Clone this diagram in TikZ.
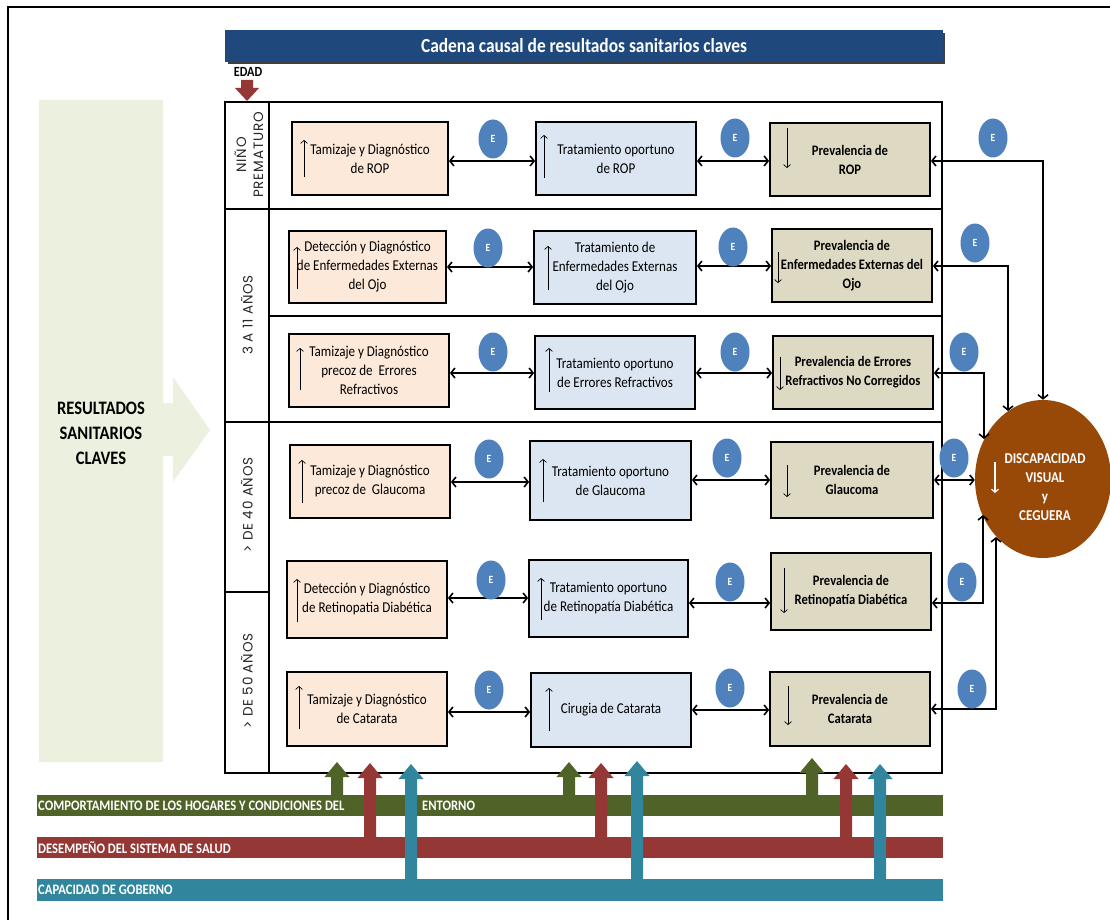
\documentclass[tikz,border=0pt]{standalone}
\usepackage{fontspec}
\setmainfont{Carlito}[FakeStretch=0.87]
\newfontfamily\agefont{Poppins}[LetterSpace=6]
\usetikzlibrary{arrows.meta,shapes.geometric}

\definecolor{navybar}{HTML}{1F497D}
\definecolor{peach}{HTML}{FDE9D9}
\definecolor{skyb}{HTML}{DCE6F2}
\definecolor{sand}{HTML}{DDD9C3}
\definecolor{ebubble}{HTML}{4F81BD}
\definecolor{rust}{HTML}{984807}
\definecolor{olivebar}{HTML}{4F6228}
\definecolor{brick}{HTML}{953735}
\definecolor{tealbar}{HTML}{31859C}
\definecolor{sage}{HTML}{EBF1DE}

% upward block arrow: x, base y, tip y, colour
\newcommand{\blockup}[4]{%
  \fill[#4] (#1-6,#2) -- (#1-6,#3+15) -- (#1-12.5,#3+15) -- (#1,#3)
    -- (#1+12.5,#3+15) -- (#1+6,#3+15) -- (#1+6,#2) -- cycle;}

\begin{document}
\begin{tikzpicture}[x=1pt,y=-1pt,
  box/.style={draw=black, line width=1.8pt, align=center, inner sep=2pt,
    font=\fontsize{15}{19}\selectfont},
  boxA/.style={box, fill=peach},
  boxB/.style={box, fill=skyb},
  boxC/.style={box, fill=sand, font=\fontsize{14.5}{19}\selectfont\bfseries},
  ebub/.style={ellipse, fill=ebubble, minimum width=29pt, minimum height=39pt,
    inner sep=0pt, text=white, font=\fontsize{11}{11}\selectfont\bfseries},
  link/.style={line width=1.6pt,
    {Straight Barb[length=4pt,width=10pt]}-{Straight Barb[length=4pt,width=10pt]}},
  trend/.style={line width=0.7pt, -{Straight Barb[length=3pt,width=7pt]}},
  agelbl/.style={rotate=90, align=center, text=black!85,
    font=\agefont\fontsize{13.5}{17}\selectfont},
  rule/.style={line width=2.2pt},
  barlbl/.style={anchor=west, text=white, inner sep=0pt,
    font=\fontsize{14.5}{14.5}\selectfont\bfseries}]

\useasboundingbox (0,0) rectangle (1110,920);
\fill[white] (0,0) rectangle (1110,920);

% page frame
\draw[line width=2pt] (8,920) -- (8,7) -- (1110,7);

% title bar
\fill[black!75] (228,33) rectangle (945,64);
\fill[navybar] (225,30) rectangle (943,62);
\node[text=white, font=\fontsize{20}{20}\selectfont\bfseries] (title) at (584,46)
  {Cadena causal de resultados sanitarios claves};

% age marker
\node[font=\fontsize{14}{14}\selectfont\bfseries] (edad) at (248,72) {EDAD};
\fill[brick] (241,80) -- (253,80) -- (253,88) -- (259,88) -- (247,101)
  -- (235,88) -- (241,88) -- cycle;

% left panel with arrow
\fill[sage] (39,100) -- (163,100) -- (163,403) -- (173,403) -- (173,377)
  -- (210,430) -- (173,482) -- (173,456) -- (163,456) -- (163,762)
  -- (39,762) -- cycle;
\node[align=center, font=\fontsize{19}{25}\selectfont\bfseries] (rsc) at (101,433)
  {RESULTADOS\\SANITARIOS\\CLAVES};

% table grid
\draw[rule] (225,102) rectangle (942,773);
\draw[line width=2.6pt] (269,102) -- (269,773);
\draw[rule] (225,209) -- (942,209);
\draw[rule] (269,316) -- (942,316);
\draw[rule] (225,422) -- (942,422);
\draw[rule] (225,592) -- (269,592);

% age groups
\node[agelbl] (ag1) at (249,155) {NIÑO\\PREMATURO};
\node[agelbl] (ag2) at (247,315) {3 A 11 AÑOS};
\node[agelbl] (ag3) at (247,505) {> DE 40 AÑOS};
\node[agelbl] (ag4) at (247,681) {> DE 50 AÑOS};

% row 1
\node[boxA, minimum width=156pt, minimum height=73pt] (a1) at (370,158.5)
  {Tamizaje y Diagnóstico\\de ROP};
\node[boxB, minimum width=160pt, minimum height=73pt] (b1) at (616,158.5)
  {Tratamiento oportuno\\de ROP};
\node[boxC, minimum width=160pt, minimum height=73pt] (c1) at (850,159.5)
  {Prevalencia de\\ROP};
% row 2
\node[boxA, minimum width=157pt, minimum height=72pt] (a2) at (367.5,267)
  {Detección y Diagnóstico\\de Enfermedades Externas\\del Ojo};
\node[boxB, minimum width=162pt, minimum height=73pt] (b2) at (615,267.5)
  {Tratamiento de\\Enfermedades Externas\\del Ojo};
\node[boxC, minimum width=160pt, minimum height=73pt] (c2) at (852,265.5)
  {Prevalencia de\\Enfermedades Externas del\\Ojo};
% row 3
\node[boxA, minimum width=160pt, minimum height=73pt] (a3) at (369,370.5)
  {Tamizaje y Diagnóstico\\precoz de~~Errores\\Refractivos};
\node[boxB, minimum width=160pt, minimum height=73pt] (b3) at (615,372.5)
  {Tratamiento oportuno\\de Errores Refractivos};
\node[boxC, minimum width=160pt, minimum height=73pt] (c3) at (853,372.5)
  {Prevalencia de Errores\\Refractivos No Corregidos};
% row 4
\node[boxA, minimum width=160pt, minimum height=73pt] (a4) at (370,481.5)
  {Tamizaje y Diagnóstico\\precoz de~~Glaucoma};
\node[boxB, minimum width=161pt, minimum height=79pt] (b4) at (610.5,480.5)
  {Tratamiento oportuno\\de Glaucoma};
\node[boxC, minimum width=162pt, minimum height=76pt] (c4) at (852,480)
  {Prevalencia de\\Glaucoma};
% row 5
\node[boxA, minimum width=160pt, minimum height=77pt] (a5) at (367,599.5)
  {Detección y Diagnóstico\\de Retinopatia Diabética};
\node[boxB, minimum width=159pt, minimum height=77pt] (b5) at (608.5,598.5)
  {Tratamiento oportuno\\de Retinopatía Diabética};
\node[boxC, minimum width=160pt, minimum height=77pt] (c5) at (851,591.5)
  {Prevalencia de\\Retinopatía Diabética};
% row 6
\node[boxA, minimum width=160pt, minimum height=74pt] (a6) at (367,709)
  {Tamizaje y Diagnóstico\\de Catarata};
\node[boxB, minimum width=160pt, minimum height=74pt] (b6) at (611,710)
  {Cirugia de Catarata};
\node[boxC, minimum width=160pt, minimum height=74pt] (c6) at (850,709)
  {Prevalencia de\\Catarata};

% trend marks inside the boxes
\draw[trend] (304,177) -- (304,140);
\draw[trend] (544,178) -- (544,135);
\draw[trend] (787,128) -- (787,168);
\draw[trend] (297,289) -- (297,247);
\draw[trend] (548,290) -- (548,246);
\draw[trend] (778,252) -- (778,283);
\draw[trend] (300,390) -- (300,348);
\draw[trend] (549,392) -- (549,348);
\draw[trend] (780,357) -- (780,390);
\draw[trend] (302,503) -- (302,460);
\draw[trend] (543,502) -- (543,459);
\draw[trend] (787,465) -- (787,497);
\draw[trend] (297,622) -- (297,579);
\draw[trend] (541,620) -- (541,578);
\draw[trend] (784,568) -- (784,613);
\draw[trend] (299,729) -- (299,686);
\draw[trend] (549,731) -- (549,688);
\draw[trend] (788,686) -- (788,725);

% outcome
\node[ellipse, fill=rust, minimum width=136pt, minimum height=158pt, inner sep=0pt]
  (dv) at (1043,479) {};
\node[align=center, text=white, font=\fontsize{15}{19}\selectfont\bfseries]
  (dvtxt) at (1045,487) {DISCAPACIDAD\\VISUAL\\y\\CEGUERA};
\draw[trend, white, line width=1.2pt] (995,462) -- (995,493);
\coordinate (dvA) at (1008,411);
\coordinate (dvB) at (984,439);
\coordinate (dvC) at (983,515);
\coordinate (dvD) at (996,537);

% links along each row
\draw[link] (a1.east |- 0,161) -- (b1.west |- 0,161);
\draw[link] (b1.east |- 0,161) -- (c1.west |- 0,161);
\draw[link] (a2.east |- 0,267) -- (b2.west |- 0,267);
\draw[link] (b2.east |- 0,266) -- (c2.west |- 0,266);
\draw[link] (a3.east |- 0,373) -- (b3.west |- 0,373);
\draw[link] (b3.east |- 0,373) -- (c3.west |- 0,373);
\draw[link] (a4.east |- 0,482) -- (b4.west |- 0,482);
\draw[link] (b4.east |- 0,480) -- (c4.west |- 0,480);
\draw[link] (a5.east |- 0,598) -- (b5.west |- 0,598);
\draw[link] (b5.east |- 0,603) -- (c5.west |- 0,603);
\draw[link] (a6.east |- 0,712) -- (b6.west |- 0,712);
\draw[link] (b6.east |- 0,710) -- (c6.west |- 0,710);

% links to the outcome
\draw[link] (c1.east |- 0,161) -| (dv.north);
\draw[link] (c2.east |- 0,266) -| (dvA);
\draw[link] (c3.east |- 0,373) -| (dvB);
\draw[link] (c4.east |- 0,480) -- (dv.west |- 0,480);
\draw[link] (c5.east |- 0,603) -| (dvC);
\draw[link] (c6.east |- 0,709) -| (dvD);

% E markers
\node[ebub] (e11) at (493,139) {E};
\node[ebub] (e12) at (735,138) {E};
\node[ebub] (e13) at (993,138) {E};
\node[ebub] (e21) at (488,248) {E};
\node[ebub] (e22) at (733,247) {E};
\node[ebub] (e23) at (975,243) {E};
\node[ebub] (e31) at (493,352) {E};
\node[ebub] (e32) at (735,352) {E};
\node[ebub] (e33) at (964,352) {E};
\node[ebub] (e41) at (489,459) {E};
\node[ebub] (e42) at (727,458) {E};
\node[ebub] (e43) at (954,458) {E};
\node[ebub] (e51) at (491,580) {E};
\node[ebub] (e52) at (730,582) {E};
\node[ebub] (e53) at (962,582) {E};
\node[ebub] (e61) at (489,690) {E};
\node[ebub] (e62) at (730,688) {E};
\node[ebub] (e63) at (972,689) {E};

% determinant bands
\fill[olivebar] (37,795) rectangle (943,816);
\fill[brick] (37,837) rectangle (943,858);
\fill[tealbar] (37,879) rectangle (943,901);
\node[barlbl] (lb1) at (38,805.5) {COMPORTAMIENTO DE LOS HOGARES Y CONDICIONES DEL};
\node[barlbl] (lb1b) at (422,805.5) {ENTORNO};
\node[barlbl] (lb2) at (38,847.5) {DESEMPEÑO DEL SISTEMA DE SALUD};
\node[barlbl] (lb3) at (38,890) {CAPACIDAD DE GOBERNO};

\blockup{337}{796}{762}{olivebar}
\blockup{569}{796}{762}{olivebar}
\blockup{812}{796}{758}{olivebar}
\blockup{370}{838}{763}{brick}
\blockup{601}{838}{763}{brick}
\blockup{846}{838}{764}{brick}
\blockup{411}{880}{764}{tealbar}
\blockup{637}{880}{761}{tealbar}
\blockup{880}{880}{764}{tealbar}

\end{tikzpicture}
\end{document}
